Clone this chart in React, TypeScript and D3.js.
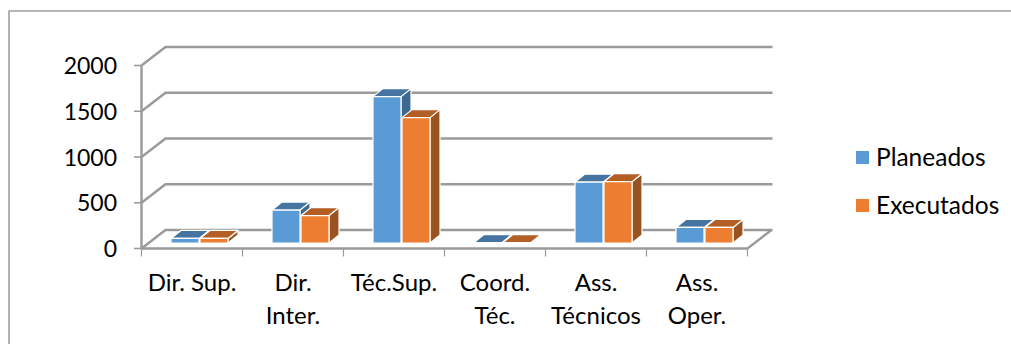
import React from "react";
import * as d3 from "d3";

const categories: string[][] = [
  ["Dir. Sup."],
  ["Dir.", "Inter."],
  ["Téc.Sup."],
  ["Coord.", "Téc."],
  ["Ass.", "Técnicos"],
  ["Ass.", "Oper."],
];
const planeados = [50, 360, 1600, 5, 665, 170];
const executados = [50, 300, 1370, 5, 670, 170];
const yTicks = [0, 500, 1000, 1500, 2000];
const seriesNames = ["Planeados", "Executados"];

const palette = [
  { front: "#5B9BD5", top: "#44749F", side: "#3D6890" },
  { front: "#ED7D31", top: "#B25E25", side: "#9A521F" },
];

const width = 1011;
const height = 344;
const font = "Lato, 'Open Sans', sans-serif";
const axisColor = "#9a9a9a";

// Floor depth of the 3D plot box
const depthX = 24;
const depthY = -18.5;
// Depth of each bar's box and its inset from the front edge of the floor
const barDepthX = 10;
const barDepthY = -8;
const barBaseLift = 5.5;

const y = d3.scaleLinear().domain([0, 2000]).range([248.5, 65.5]);
const x = d3.scaleBand<number>().domain(d3.range(categories.length)).range([141.5, 747.5]);
const barW = 28;
const barOffset = 29;

type BoxProps = { x0: number; value: number; colors: (typeof palette)[number] };

function Box({ x0, value, colors }: BoxProps) {
  const base = y(0) - barBaseLift;
  const top = y(value) - barBaseLift;
  const x1 = x0 + barW;
  const pts = (p: number[][]) => p.map((d) => d.join(",")).join(" ");
  return (
    <g stroke="#ffffff" strokeWidth={1.2} strokeLinejoin="round">
      <polygon
        fill={colors.side}
        points={pts([[x1, base], [x1 + barDepthX, base + barDepthY], [x1 + barDepthX, top + barDepthY], [x1, top]])}
      />
      <polygon
        fill={colors.top}
        points={pts([[x0, top], [x0 + barDepthX, top + barDepthY], [x1 + barDepthX, top + barDepthY], [x1, top]])}
      />
      <rect x={x0} y={top} width={barW} height={Math.max(base - top, 0)} fill={colors.front} />
    </g>
  );
}

export default function App() {
  const step = x.step();
  return (
    <svg
      width={width}
      height={height}
      style={{ position: "absolute", left: 0, top: 0, background: "#fff" }}
      fontFamily={font}
    >
      <path d="M9 344V11H1011" fill="none" stroke="#a0a0a0" strokeWidth={1.6} />

      {/* back wall gridlines with their diagonal returns */}
      {yTicks.map((t) => (
        <path
          key={t}
          d={`M${x.range()[0]} ${y(t)}L${x.range()[0] + depthX} ${y(t) + depthY}H${x.range()[1] + depthX + 1}`}
          fill="none"
          stroke={axisColor}
          strokeWidth={2.4}
        />
      ))}
      <path
        d={`M${x.range()[1]} ${y(0)}L${x.range()[1] + depthX} ${y(0) + depthY}`}
        fill="none"
        stroke={axisColor}
        strokeWidth={2.4}
      />

      {/* value axis */}
      <line x1={141.5} x2={141.5} y1={y(2000)} y2={y(0)} stroke={axisColor} strokeWidth={2.4} />
      {yTicks.map((t) => (
        <g key={t}>
          <line x1={134} x2={141.5} y1={y(t)} y2={y(t)} stroke={axisColor} strokeWidth={1.6} />
          <text x={117} y={y(t) + 8.5} textAnchor="end" fontSize={23} fill="#000">
            {t}
          </text>
        </g>
      ))}

      {/* category axis */}
      <line x1={141.5} x2={747.5} y1={y(0)} y2={y(0)} stroke={axisColor} strokeWidth={2.4} />
      {d3.range(categories.length + 1).map((i) => (
        <line
          key={i}
          x1={x.range()[0] + i * step}
          x2={x.range()[0] + i * step}
          y1={y(0)}
          y2={y(0) + 8}
          stroke={axisColor}
          strokeWidth={1.2}
        />
      ))}
      {categories.map((lines, i) => (
        <text key={i} textAnchor="middle" fontSize={24} fill="#000">
          {lines.map((l, j) => (
            <tspan key={j} x={(x(i) as number) + step / 2} y={291 + j * 33}>
              {l}
            </tspan>
          ))}
        </text>
      ))}

      {/* columns */}
      {categories.map((_, i) => {
        const x0 = (x(i) as number) + 29.5;
        return (
          <g key={i}>
            <Box x0={x0} value={planeados[i]} colors={palette[0]} />
            <Box x0={x0 + barOffset} value={executados[i]} colors={palette[1]} />
          </g>
        );
      })}

      {/* legend */}
      {seriesNames.map((name, i) => (
        <g key={name}>
          <rect x={856} y={151 + i * 48} width={13} height={13} fill={palette[i].front} />
          <text x={876} y={166 + i * 47.5} fontSize={24.5} fill="#000">
            {name}
          </text>
        </g>
      ))}
    </svg>
  );
}
